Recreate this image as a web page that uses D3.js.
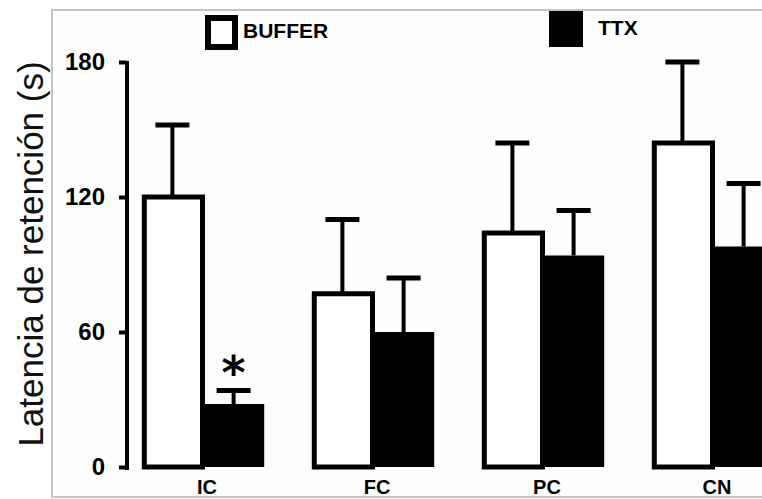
<!DOCTYPE html>
<html>
<head>
<meta charset="utf-8">
<script src="https://cdn.jsdelivr.net/npm/d3@7"></script>
<style>
  body { margin: 0; background: #fff; }
  text { font-family: "Liberation Sans", Arial, Helvetica, sans-serif; }
</style>
</head>
<body>
<div id="wrapper"></div>
<script>
// Values (seconds).
const categories = ["IC", "FC", "PC", "CN"]
const groups = ["BUFFER", "TTX"]
const bufferValues = [120, 77, 104, 144]
const bufferErrors = [32, 33, 40, 36]
const ttxValues = [28, 60, 94, 98]
const ttxErrors = [6, 24, 20, 28]
const ttxSignificance = ["*", "", "", ""]
const yTicks = [0, 60, 120, 180]

const dimensions = {
  width: 762,
  height: 499,
}

// One row per category, built from the arrays above.
const dataset = categories.map((c, i) => ({
  category: c,
  BUFFER: { value: bufferValues[i], err: bufferErrors[i] },
  TTX: { value: ttxValues[i], err: ttxErrors[i], mark: ttxSignificance[i] },
}))

const svg = d3.select("#wrapper")
  .append("svg")
    .attr("width", dimensions.width)
    .attr("height", dimensions.height)

// Light grey frame of the scanned figure.
svg.append("rect")
  .attr("x", 52)
  .attr("y", 10)
  .attr("width", 760)
  .attr("height", 487)
  .attr("fill", "#fefefe")
  .attr("stroke", "#c4c4c4")
  .attr("stroke-width", 2)

const yScale = d3.scaleLinear()
  .domain([0, 180])
  .range([467, 62])

const x0 = d3.scaleBand()
  .domain(categories)
  .range([118, 798])
  .paddingInner(0.28)
  .paddingOuter(0.14)

const x1 = d3.scaleBand()
  .domain(groups)
  .range([0, x0.bandwidth()])

const bounds = svg.append("g")

const groupG = bounds.selectAll(".group")
  .data(dataset)
  .join("g")
    .attr("class", "group")
    .attr("transform", d => `translate(${x0(d.category)},0)`)

// TTX bars: solid black.
groupG.append("rect")
  .attr("x", x1("TTX"))
  .attr("y", d => yScale(d.TTX.value))
  .attr("width", x1.bandwidth())
  .attr("height", d => yScale(0) - yScale(d.TTX.value))
  .attr("fill", "#000")

// BUFFER bars: white with a thick black outline.
groupG.append("rect")
  .attr("x", x1("BUFFER") + 2.5)
  .attr("y", d => yScale(d.BUFFER.value))
  .attr("width", x1.bandwidth() - 3)
  .attr("height", d => yScale(0) - yScale(d.BUFFER.value))
  .attr("fill", "#fff")
  .attr("stroke", "#000")
  .attr("stroke-width", 5)

// Upper error bars for both groups.
groups.forEach(g => {
  const cx = x1(g) + x1.bandwidth() / 2
  groupG.append("line")
    .attr("x1", cx)
    .attr("x2", cx)
    .attr("y1", d => yScale(d[g].value))
    .attr("y2", d => yScale(d[g].value + d[g].err))
    .attr("stroke", "#000")
    .attr("stroke-width", 4)
  groupG.append("line")
    .attr("x1", cx - 17)
    .attr("x2", cx + 17)
    .attr("y1", d => yScale(d[g].value + d[g].err))
    .attr("y2", d => yScale(d[g].value + d[g].err))
    .attr("stroke", "#000")
    .attr("stroke-width", 5)
})

// Significance asterisk above the TTX error bar.
groupG.append("text")
  .attr("x", x1("TTX") + x1.bandwidth() / 2)
  .attr("y", d => yScale(d.TTX.value + d.TTX.err) - 2)
  .attr("text-anchor", "middle")
  .style("font-family", "'DejaVu Sans', sans-serif")
  .style("font-weight", "bold")
  .style("font-size", "46px")
  .text(d => d.TTX.mark)

// Category labels under each group.
groupG.append("text")
  .attr("x", x0.bandwidth() / 2 + 4)
  .attr("y", 494)
  .attr("text-anchor", "middle")
  .style("font-weight", "bold")
  .style("font-size", "20px")
  .text(d => d.category)

// Y axis.
const yAxisGenerator = d3.axisLeft(yScale)
  .tickValues(yTicks)
  .tickSize(8)
  .tickSizeOuter(0)
  .tickPadding(14)

const yAxis = bounds.append("g")
  .attr("transform", "translate(127,0)")
  .call(yAxisGenerator)

yAxis.select(".domain")
  .attr("stroke", "#000")
  .attr("stroke-width", 4)
  .attr("d", `M0,${yScale(180) - 1}V${yScale(0) + 3}`)
yAxis.selectAll(".tick line")
  .attr("stroke", "#000")
  .attr("stroke-width", 4)
yAxis.selectAll(".tick text")
  .attr("fill", "#000")
  .style("font-family", "'Liberation Sans', Arial, sans-serif")
  .style("font-weight", "bold")
  .style("font-size", "24px")

// Y axis title.
svg.append("text")
  .attr("transform", "translate(43,254) rotate(-90)")
  .attr("text-anchor", "middle")
  .style("font-size", "35px")
  .attr("fill", "#111")
  .text("Latencia de retención (s)")

// Legend.
const legend = svg.append("g")
legend.append("rect")
  .attr("x", 208)
  .attr("y", 18)
  .attr("width", 27)
  .attr("height", 29)
  .attr("fill", "#fff")
  .attr("stroke", "#000")
  .attr("stroke-width", 6)
legend.append("text")
  .attr("x", 243)
  .attr("y", 38)
  .style("font-weight", "bold")
  .style("font-size", "21px")
  .text("BUFFER")
legend.append("rect")
  .attr("x", 549)
  .attr("y", 11)
  .attr("width", 34)
  .attr("height", 36)
  .attr("fill", "#000")
legend.append("text")
  .attr("x", 598)
  .attr("y", 35)
  .style("font-weight", "bold")
  .style("font-size", "21px")
  .text("TTX")
</script>
</body>
</html>
